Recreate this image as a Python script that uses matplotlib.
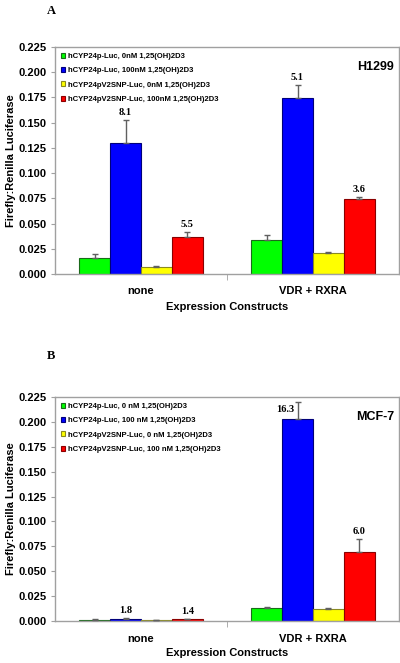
import matplotlib
matplotlib.use("Agg")
import matplotlib.pyplot as plt
import numpy as np

# Datos
groups = ["none", "VDR + RXRA"]
colors = ["#00ff00", "#0000ff", "#ffff00", "#ff0000"]
edges = ["#1a6a1a", "#00007a", "#8a8a20", "#8a0000"]

labels_a = ["hCYP24p-Luc, 0nM 1,25(OH)2D3",
            "hCYP24p-Luc, 100nM 1,25(OH)2D3",
            "hCYP24pV2SNP-Luc, 0nM 1,25(OH)2D3",
            "hCYP24pV2SNP-Luc, 100nM 1,25(OH)2D3"]
labels_b = ["hCYP24p-Luc, 0 nM 1,25(OH)2D3",
            "hCYP24p-Luc, 100 nM 1,25(OH)2D3",
            "hCYP24pV2SNP-Luc, 0 nM 1,25(OH)2D3",
            "hCYP24pV2SNP-Luc, 100 nM 1,25(OH)2D3"]

# valores por serie: [none, VDR + RXRA]
vals_a = [[0.016, 0.034], [0.130, 0.174], [0.007, 0.021], [0.037, 0.074]]
errs_a = [[0.004, 0.005], [0.023, 0.013], [0.001, 0.001], [0.005, 0.002]]
folds_a = [[None, None], ["8.1", "5.1"], [None, None], ["5.5", "3.6"]]

vals_b = [[0.0015, 0.013], [0.0025, 0.203], [0.0013, 0.012], [0.002, 0.069]]
errs_b = [[0.0003, 0.0008], [0.0003, 0.017], [0.0002, 0.0015], [0.0003, 0.013]]
folds_b = [[None, None], ["1.8", "16.3"], [None, None], ["1.4", "6.0"]]

yticks = [0.0, 0.025, 0.05, 0.075, 0.1, 0.125, 0.15, 0.175, 0.2, 0.225]

sans = "Liberation Sans"
serif = "Liberation Serif"

fig = plt.figure(figsize=(4.0, 6.63), dpi=100)


def panel(rect, vals, errs, folds, labels, cell, letter, letter_y, left_label=None):
    ax = fig.add_axes(rect)
    x = np.arange(len(groups))
    w = 0.18
    for i in range(4):
        xs = x + (i - 1.5) * w
        ax.bar(xs, vals[i], width=w, color=colors[i], edgecolor=edges[i],
               linewidth=0.8, label=labels[i], zorder=2)
        ax.errorbar(xs, vals[i], yerr=[[0, 0], errs[i]], fmt="none",
                    ecolor="#606060", elinewidth=1, capsize=2, capthick=1, zorder=3)
        for j in range(len(groups)):
            if folds[i][j]:
                top = vals[i][j] + errs[i][j]
                if left_label and left_label == (i, j):
                    ax.text(xs[j] - 0.02, vals[i][j] + 0.005, folds[i][j],
                            ha="right", va="bottom", fontsize=7.5,
                            fontweight="bold", family=serif)
                else:
                    ax.text(xs[j], top + 0.003, folds[i][j], ha="center",
                            va="bottom", fontsize=7.5, fontweight="bold", family=serif)
    ax.set_xlim(-0.5, 1.5)
    ax.set_ylim(0, 0.225)
    ax.set_yticks(yticks)
    ax.set_yticklabels(["%.3f" % v for v in yticks], fontsize=8,
                       fontweight="bold", family=sans)
    ax.set_xticks(x)
    ax.set_xticklabels(groups, fontsize=8, fontweight="bold", family=sans)
    ax.set_xticks([0.5], minor=True)
    ax.tick_params(axis="x", which="major", length=0, pad=9)
    ax.tick_params(axis="x", which="minor", length=4, color="#a0a0a0")
    ax.tick_params(axis="y", length=3, color="#a0a0a0", pad=3)
    for s in ax.spines.values():
        s.set_color("#a0a0a0")
        s.set_linewidth(1)
    ax.set_xlabel("Expression Constructs", fontsize=8, fontweight="bold", family=sans)
    ax.set_ylabel("Firefly:Renilla Luciferase", fontsize=8, fontweight="bold",
                  family=sans)
    ax.yaxis.set_label_coords(-0.112, 0.5)
    ax.xaxis.set_label_coords(0.5, -0.122)
    ax.legend(loc="upper left", frameon=False,
              prop={"family": sans, "weight": "bold", "size": 5.5},
              handlelength=0.6, handleheight=0.6, handletextpad=0.3,
              labelspacing=0.95, borderaxespad=0.35)
    ax.text(0.985, 0.91, cell, transform=ax.transAxes, ha="right", va="center",
            fontsize=9, fontweight="bold", family=sans)
    fig.text(0.118, letter_y, letter, fontsize=9, fontweight="bold", family=serif,
             ha="left", va="center")
    return ax


panel([0.1375, 1 - 274 / 663, 0.86, 227 / 663], vals_a, errs_a, folds_a, labels_a,
      "H1299", "A", 1 - 11 / 663)
panel([0.1375, 1 - 621 / 663, 0.86, 224 / 663], vals_b, errs_b, folds_b, labels_b,
      "MCF-7", "B", 1 - 356 / 663, left_label=(1, 1))

fig.savefig("out.png", dpi=100)
